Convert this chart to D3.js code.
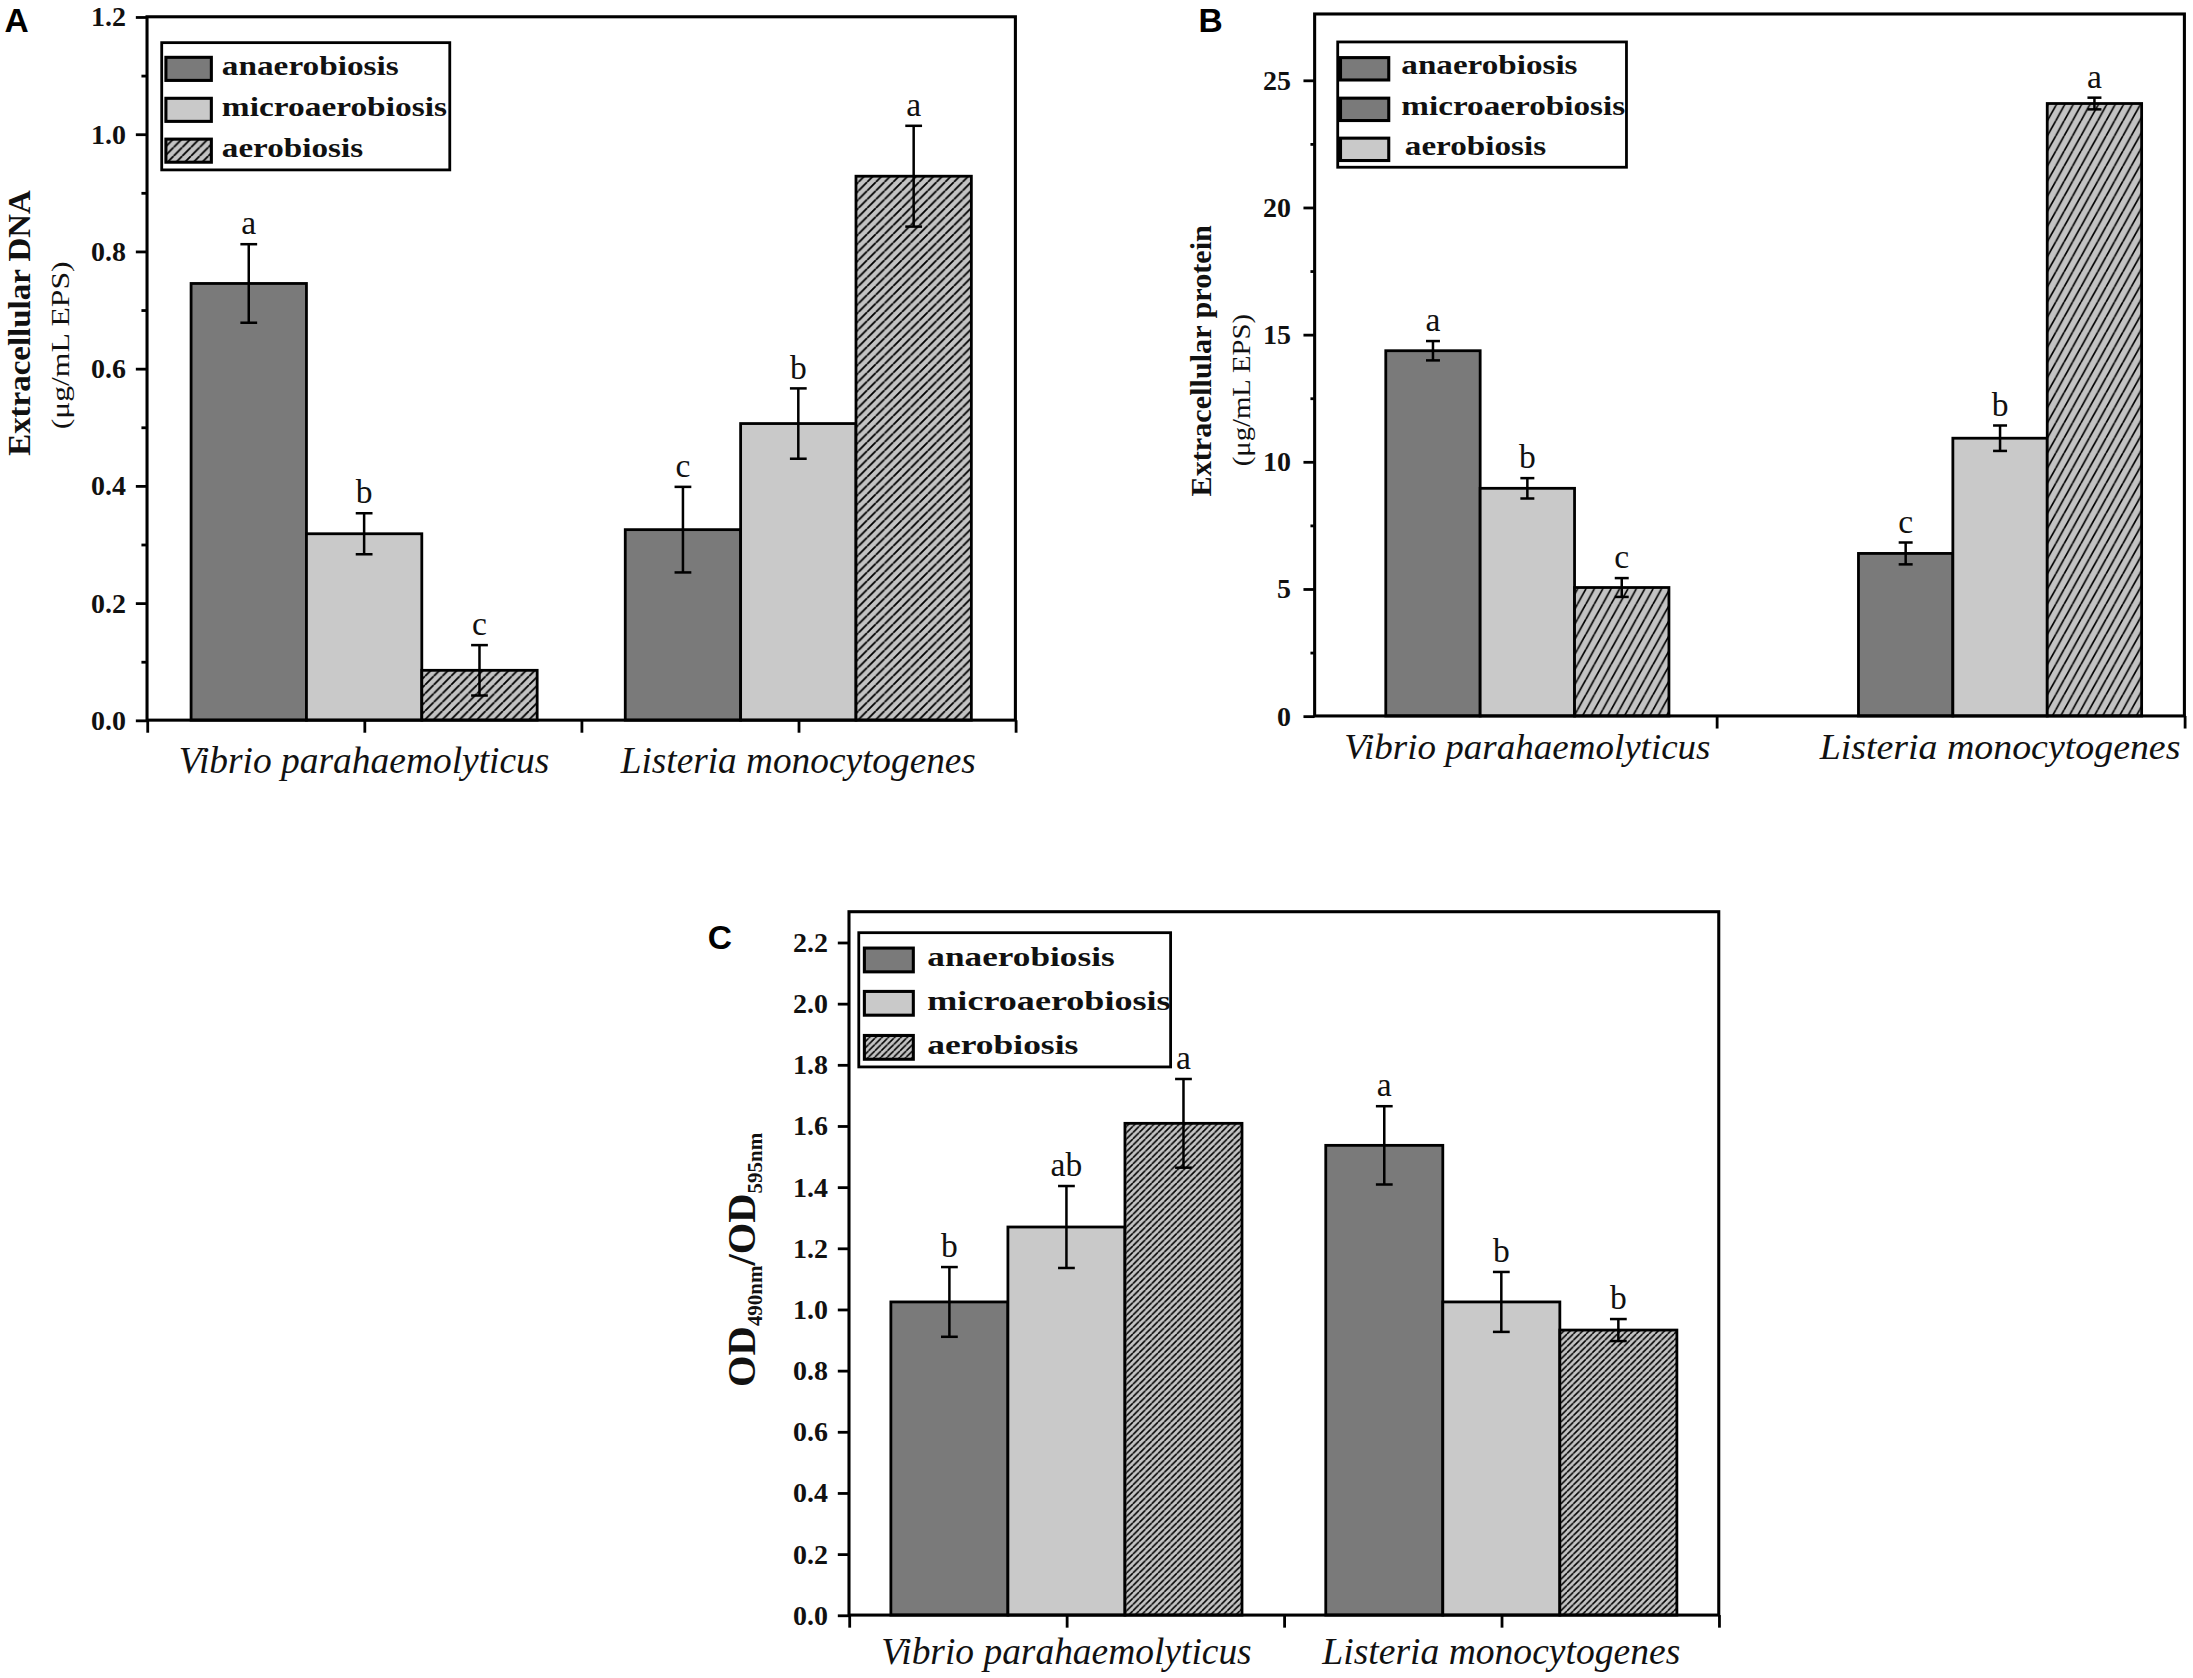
<!DOCTYPE html>
<html>
<head>
<meta charset="utf-8">
<script src="https://cdn.jsdelivr.net/npm/d3@7"></script>
<style>
  html, body { margin: 0; padding: 0; background: #fff; }
  svg { display: block; }
</style>
</head>
<body>
<div id="chart"></div>
<script>
// values, [species][condition]
const species = ["Vibrio parahaemolyticus", "Listeria monocytogenes"];
const conditions = ["anaerobiosis", "microaerobiosis", "aerobiosis"];

// A - extracellular DNA
const dnaMeans = [[0.745, 0.318, 0.085], [0.325, 0.506, 0.928]];
const dnaErrs = [[0.067, 0.035, 0.043], [0.073, 0.060, 0.086]];
const dnaLetters = [["a", "b", "c"], ["c", "b", "a"]];
const dnaTicks = [0, 0.2, 0.4, 0.6, 0.8, 1.0, 1.2];
const dnaTickLabels = ["0.0", "0.2", "0.4", "0.6", "0.8", "1.0", "1.2"];
const dnaMinor = [0.1, 0.3, 0.5, 0.7, 0.9, 1.1];

// B - extracellular protein
const proteinMeans = [[14.36, 8.95, 5.05], [6.39, 10.92, 24.08]];
const proteinErrs = [[0.38, 0.40, 0.37], [0.43, 0.50, 0.23]];
const proteinLetters = [["a", "b", "c"], ["c", "b", "a"]];
const proteinTicks = [0, 5, 10, 15, 20, 25];
const proteinTickLabels = ["0", "5", "10", "15", "20", "25"];
const proteinMinor = [2.5, 7.5, 12.5, 17.5, 22.5];

// C - OD490/OD595
const odMeans = [[1.024, 1.269, 1.608], [1.536, 1.024, 0.932]];
const odErrs = [[0.114, 0.134, 0.145], [0.128, 0.098, 0.036]];
const odLetters = [["b", "ab", "a"], ["a", "b", "b"]];
const odTicks = [0, 0.2, 0.4, 0.6, 0.8, 1.0, 1.2, 1.4, 1.6, 1.8, 2.0, 2.2];
const odTickLabels = ["0.0", "0.2", "0.4", "0.6", "0.8", "1.0", "1.2", "1.4", "1.6", "1.8", "2.0", "2.2"];

// legend swatches as printed (panel B repeats the dark one)
const legendFillsA = ["dark", "light", "hatchA"];
const legendFillsB = ["dark", "dark", "light"];
const legendFillsC = ["dark", "light", "hatchC"];

const W = 1568, H = 1200;
const serif = "'Liberation Serif', 'Times New Roman', serif";

const svg = d3.select("#chart").append("svg")
  .attr("width", 2193)
  .attr("height", 1678)
  .attr("viewBox", `0 0 ${W} ${H}`);

svg.append("rect").attr("width", W).attr("height", H).attr("fill", "#fff");

const defs = svg.append("defs");

function solid(id, col) {
  const p = defs.append("pattern").attr("id", id)
    .attr("patternUnits", "userSpaceOnUse").attr("width", 4).attr("height", 4);
  p.append("rect").attr("width", 4).attr("height", 4).attr("fill", col);
}
function hatch(id, w, slope, bg, sw) {
  const h = w * slope;
  const p = defs.append("pattern").attr("id", id)
    .attr("patternUnits", "userSpaceOnUse").attr("width", w).attr("height", h);
  p.append("rect").attr("width", w).attr("height", h).attr("fill", bg);
  p.append("path")
    .attr("d", `M0,${h}L${w},0M${-w},${h}L0,0M${w},${h}L${2 * w},0`)
    .attr("stroke", "#000").attr("stroke-width", sw).attr("fill", "none");
}
solid("dark", "#7a7a7a");
solid("light", "#c9c9c9");
hatch("hatchA", 6.2, 1, "#c3c3c3", 1.3);
hatch("hatchB", 6, 1.8, "#c3c3c3", 1.2);
hatch("hatchC", 4.5, 1, "#c3c3c3", 1.1);

function drawPanel(cfg) {
  const g = svg.append("g");
  const x = d3.scaleLinear().domain(cfg.xDomain).range([cfg.left, cfg.right]);
  const y = d3.scaleLinear().domain(cfg.yDomain).range([cfg.bottom, cfg.top]);
  const bw = cfg.barWidth;
  const band = d3.scaleBand().domain(conditions).range([-1.5 * bw, 1.5 * bw]).padding(0);

  const rows = species.flatMap((sp, i) => conditions.map((c, j) => ({
    i, j, c,
    cx: x(cfg.groupPos[i]),
    v: cfg.means[i][j],
    e: cfg.errs[i][j],
    l: cfg.letters[i][j]
  })));

  // bars
  g.selectAll("rect.bar").data(rows).join("rect")
    .attr("class", "bar")
    .attr("x", d => d.cx + band(d.c))
    .attr("y", d => y(d.v))
    .attr("width", band.bandwidth())
    .attr("height", d => y(0) - y(d.v))
    .attr("fill", d => `url(#${cfg.fills[d.j]})`)
    .attr("stroke", "#000")
    .attr("stroke-width", 2);

  // error bars
  const eb = g.selectAll("g.err").data(rows).join("g").attr("class", "err")
    .attr("stroke", "#000").attr("stroke-width", 1.8);
  const cap = cfg.cap / 2;
  eb.append("line")
    .attr("x1", d => d.cx + band(d.c) + bw / 2).attr("x2", d => d.cx + band(d.c) + bw / 2)
    .attr("y1", d => y(d.v - d.e)).attr("y2", d => y(d.v + d.e));
  eb.append("line")
    .attr("x1", d => d.cx + band(d.c) + bw / 2 - cap).attr("x2", d => d.cx + band(d.c) + bw / 2 + cap)
    .attr("y1", d => y(d.v + d.e)).attr("y2", d => y(d.v + d.e));
  eb.append("line")
    .attr("x1", d => d.cx + band(d.c) + bw / 2 - cap).attr("x2", d => d.cx + band(d.c) + bw / 2 + cap)
    .attr("y1", d => y(d.v - d.e)).attr("y2", d => y(d.v - d.e));

  // frame
  g.append("rect")
    .attr("x", cfg.left).attr("y", cfg.top)
    .attr("width", cfg.right - cfg.left).attr("height", cfg.bottom - cfg.top)
    .attr("fill", "none").attr("stroke", "#000").attr("stroke-width", 2.2);

  // y axis
  const ya = g.append("g").attr("transform", `translate(${cfg.left},0)`)
    .call(d3.axisLeft(y).tickValues(cfg.yTicks).tickFormat((d, k) => cfg.yLabels[k])
      .tickSize(8).tickPadding(cfg.tickPad).tickSizeOuter(0));
  ya.select(".domain").remove();
  ya.selectAll("line").attr("stroke", "#000").attr("stroke-width", 2);
  ya.selectAll("text")
    .attr("font-family", serif).attr("font-weight", "bold")
    .attr("font-size", cfg.tickFont).attr("fill", "#111");
  if (cfg.yMinor) {
    const ym = g.append("g").attr("transform", `translate(${cfg.left},0)`)
      .call(d3.axisLeft(y).tickValues(cfg.yMinor).tickFormat("").tickSize(cfg.minorLen).tickSizeOuter(0));
    ym.select(".domain").remove();
    ym.selectAll("line").attr("stroke", "#000").attr("stroke-width", 2);
  }

  // x axis
  const xa = g.append("g").attr("transform", `translate(0,${cfg.bottom})`)
    .call(d3.axisBottom(x).tickValues(cfg.xTicks).tickFormat("").tickSize(cfg.xTickLen).tickSizeOuter(0));
  xa.select(".domain").remove();
  xa.selectAll("line").attr("stroke", "#000").attr("stroke-width", 2);

  g.selectAll("text.cat").data(species).join("text")
    .attr("class", "cat")
    .attr("x", (d, i) => x(cfg.groupPos[i]))
    .attr("y", cfg.catY)
    .attr("text-anchor", "middle")
    .attr("font-family", serif).attr("font-style", "italic")
    .attr("font-size", cfg.catFont).attr("fill", "#111")
    .attr("textLength", (d, i) => cfg.catLens[i])
    .attr("lengthAdjust", "spacingAndGlyphs")
    .text(d => d);

  // significance letters
  g.selectAll("text.sig").data(rows).join("text")
    .attr("class", "sig")
    .attr("x", d => d.cx + band(d.c) + bw / 2)
    .attr("y", d => y(d.v + d.e) - 7)
    .attr("text-anchor", "middle")
    .attr("font-family", serif).attr("font-size", 24).attr("fill", "#111")
    .text(d => d.l);

  // legend
  const L = cfg.legend;
  g.append("rect").attr("x", L.x).attr("y", L.y).attr("width", L.w).attr("height", L.h)
    .attr("fill", "#fff").attr("stroke", "#000").attr("stroke-width", 2);
  conditions.forEach((c, j) => {
    g.append("rect")
      .attr("x", L.sx).attr("y", L.rowY[j]).attr("width", L.sw).attr("height", L.sh)
      .attr("fill", `url(#${L.fills[j]})`).attr("stroke", "#000").attr("stroke-width", 2.2);
    g.append("text")
      .attr("x", L.tx[j]).attr("y", L.base[j])
      .attr("font-family", serif).attr("font-weight", "bold")
      .attr("font-size", L.font).attr("fill", "#111")
      .attr("textLength", L.lens[j]).attr("lengthAdjust", "spacingAndGlyphs")
      .text(c);
  });

  // axis titles
  (cfg.titles || []).forEach(t => {
    g.append("text")
      .attr("transform", `translate(${t.x},${t.y}) rotate(-90)`)
      .attr("text-anchor", "middle")
      .attr("font-family", serif).attr("font-weight", t.weight)
      .attr("font-size", t.size).attr("fill", "#111")
      .attr("textLength", t.len).attr("lengthAdjust", "spacingAndGlyphs")
      .text(t.t);
  });

  // panel letter
  g.append("text").attr("x", cfg.tag.x).attr("y", cfg.tag.y)
    .attr("font-family", "'Liberation Sans', Arial, sans-serif").attr("font-weight", "bold")
    .attr("font-size", 24).attr("fill", "#000").text(cfg.tag.t);

  return g;
}

drawPanel({
  left: 105, right: 726, top: 12, bottom: 515,
  xDomain: [0, 4], groupPos: [1, 3], xTicks: [0, 1, 2, 3, 4], xTickLen: 9,
  yDomain: [0, 1.2], yTicks: dnaTicks, yLabels: dnaTickLabels, yMinor: dnaMinor, minorLen: 4,
  tickPad: 7, tickFont: 20,
  barWidth: 82.5, cap: 12,
  means: dnaMeans, errs: dnaErrs, letters: dnaLetters,
  fills: ["dark", "light", "hatchA"],
  catY: 553, catFont: 27, catLens: [265, 254],
  legend: { x: 115.5, y: 30.5, w: 206, h: 91, sx: 118.5, sw: 32.5, sh: 16.5,
    rowY: [41, 70.3, 99.5], tx: [158.5, 158.5, 158.5], base: [53.6, 83, 112],
    lens: [126.5, 161, 101], font: 19, fills: legendFillsA },
  titles: [
    { t: "Extracellular DNA", x: 21, y: 231, size: 22, weight: "bold", len: 190 },
    { t: "(μg/mL EPS)", x: 49, y: 247, size: 18, weight: "normal", len: 120 }
  ],
  tag: { t: "A", x: 3, y: 23 }
});

drawPanel({
  left: 940, right: 1562, top: 10, bottom: 512,
  xDomain: [0.55, 2.39], groupPos: [1, 2], xTicks: [1.4, 2.39], xTickLen: 9,
  yDomain: [0, 27.6], yTicks: proteinTicks, yLabels: proteinTickLabels, yMinor: proteinMinor, minorLen: 3,
  tickPad: 9, tickFont: 20,
  barWidth: 67.5, cap: 10,
  means: proteinMeans, errs: proteinErrs, letters: proteinLetters,
  fills: ["dark", "light", "hatchB"],
  catY: 543, catFont: 26, catLens: [262, 258],
  legend: { x: 956.5, y: 30, w: 206.5, h: 89.6, sx: 958.5, sw: 34.5, sh: 16,
    rowY: [41.2, 70.2, 98.8], tx: [1002, 1002, 1004.5], base: [52.9, 82, 110.5],
    lens: [126, 160, 101], font: 19, fills: legendFillsB },
  titles: [
    { t: "Extracellular protein", x: 866, y: 258, size: 21, weight: "bold", len: 194 },
    { t: "(μg/mL EPS)", x: 893.5, y: 279, size: 18, weight: "normal", len: 109 }
  ],
  tag: { t: "B", x: 857, y: 23 }
});

drawPanel({
  left: 607, right: 1229, top: 652, bottom: 1155,
  xDomain: [0, 4], groupPos: [1, 3], xTicks: [0, 1, 2, 3, 4], xTickLen: 9,
  yDomain: [0, 2.3], yTicks: odTicks, yLabels: odTickLabels, yMinor: null,
  tickPad: 7, tickFont: 20,
  barWidth: 83.7, cap: 12,
  means: odMeans, errs: odErrs, letters: odLetters,
  fills: ["dark", "light", "hatchC"],
  catY: 1190, catFont: 27, catLens: [265, 256],
  legend: { x: 614, y: 667, w: 223, h: 96, sx: 618, sw: 35, sh: 17,
    rowY: [678, 709, 740.5], tx: [663, 663, 663], base: [690.5, 722.5, 754],
    lens: [134, 174, 108], font: 20, fills: legendFillsC },
  titles: [],
  tag: { t: "C", x: 506, y: 679 }
});

// C y title with subscripts
const odTitle = svg.append("text")
  .attr("transform", "translate(540,901) rotate(-90)")
  .attr("text-anchor", "middle")
  .attr("font-family", serif).attr("font-weight", "bold").attr("fill", "#111")
  .attr("font-size", 29);
odTitle.append("tspan").text("OD");
odTitle.append("tspan").attr("font-size", 15).attr("dy", 5).text("490nm");
odTitle.append("tspan").attr("dy", -5).text("/OD");
odTitle.append("tspan").attr("font-size", 15).attr("dy", 5).text("595nm");
</script>
</body>
</html>
